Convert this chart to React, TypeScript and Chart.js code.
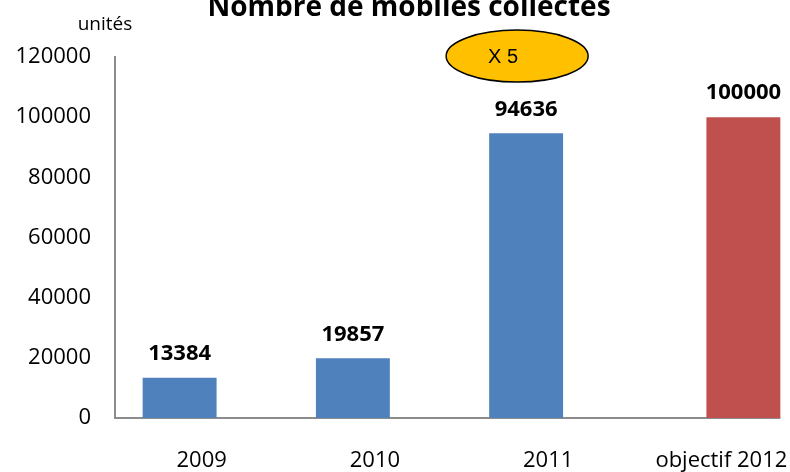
import React, { useEffect, useRef } from "react";
import { Chart, registerables } from "chart.js";

Chart.register(...registerables);

const categories = ["2009", "2010", "2011", "objectif 2012"];
const collectedValues = [13384, 19857, 94636, null];
const targetValues = [null, null, null, 100000];
const yTicks = [0, 20000, 40000, 60000, 80000, 100000, 120000];
const titleText = "Nombre de mobiles collectés";
const unitText = "unités";
const bubbleText = "X 5";

const FONT = "'Open Sans', 'Noto Sans', sans-serif";

const extrasPlugin = {
  id: "extras",
  beforeDatasetsDraw(chart: any) {
    const { ctx, chartArea } = chart;
    const redMeta = chart.getDatasetMeta(1);
    const redBar: any = redMeta.data[3];
    const right = redBar ? redBar.x + redBar.width / 2 : chartArea.right;
    ctx.save();
    ctx.strokeStyle = "#8c8c8c";
    ctx.lineWidth = 2;
    ctx.beginPath();
    ctx.moveTo(chartArea.left - 1, chartArea.bottom);
    ctx.lineTo(right, chartArea.bottom);
    ctx.stroke();
    ctx.restore();
  },
  afterDatasetsDraw(chart: any) {
    const { ctx } = chart;
    ctx.save();
    ctx.fillStyle = "#000";
    ctx.font = `bold 22px ${FONT}`;
    ctx.textAlign = "center";
    ctx.textBaseline = "middle";
    chart.data.datasets.forEach((ds: any, di: number) => {
      const meta = chart.getDatasetMeta(di);
      meta.data.forEach((bar: any, i: number) => {
        const v = ds.data[i];
        if (v === null || v === undefined) return;
        ctx.fillText(String(v), bar.x, bar.y - 24);
      });
    });
    ctx.restore();
  },
  afterDraw(chart: any) {
    const { ctx, chartArea } = chart;
    ctx.save();
    // title (partially cut at top)
    ctx.fillStyle = "#000";
    ctx.font = `bold 28px ${FONT}`;
    ctx.textAlign = "center";
    ctx.textBaseline = "alphabetic";
    ctx.fillText(titleText, chartArea.left + 294, 16);
    // unit label
    ctx.font = `19px ${FONT}`;
    ctx.textBaseline = "middle";
    ctx.fillText(unitText, chartArea.left - 10, chartArea.top - 32);
    // ellipse
    const bar: any = chart.getDatasetMeta(0).data[2];
    const cx = bar.x - 9;
    const cy = chart.scales.y.getPixelForValue(120300);
    ctx.beginPath();
    ctx.ellipse(cx, cy, 71, 26, 0, 0, Math.PI * 2);
    ctx.fillStyle = "#FFC000";
    ctx.fill();
    ctx.strokeStyle = "#000";
    ctx.lineWidth = 1.5;
    ctx.stroke();
    ctx.fillStyle = "#000";
    ctx.font = "20px 'Liberation Sans', Arial, sans-serif";
    ctx.textAlign = "center";
    ctx.fillText(bubbleText, cx - 14, cy + 1);
    ctx.restore();
  },
};

export default function App() {
  const ref = useRef<HTMLCanvasElement | null>(null);
  useEffect(() => {
    if (!ref.current) return;
    Chart.defaults.font.family = FONT;
    const chart = new Chart(ref.current, {
      type: "bar",
      data: {
        labels: categories,
        datasets: [
          {
            data: collectedValues,
            backgroundColor: "#4F81BD",
            categoryPercentage: 0.508,
            barPercentage: 1.68,
          },
          {
            data: targetValues,
            backgroundColor: "#C0504D",
            categoryPercentage: 0.508,
            barPercentage: 1.68,
          },
        ],
      } as any,
      options: {
        responsive: false,
        animation: false,
        devicePixelRatio: 1,
        layout: { padding: { top: 57, right: 22, left: 0, bottom: 0 } },
        plugins: {
          legend: { display: false },
          title: { display: false },
          tooltip: { enabled: false },
        },
        scales: {
          x: {
            type: "category",
            grid: { display: false, drawTicks: false },
            border: { display: false },
            ticks: {
              color: "#000",
              font: { size: 22, family: FONT },
              padding: 30,
              maxRotation: 0,
              autoSkip: false,
            },
            afterFit: (s: any) => {
              s.height = 54;
            },
          },
          y: {
            min: 0,
            max: 120000,
            grid: { display: false, drawTicks: false },
            border: { display: true, color: "#8c8c8c", width: 2 },
            afterBuildTicks: (s: any) => {
              s.ticks = yTicks.map((v) => ({ value: v }));
            },
            ticks: {
              color: "#000",
              font: { size: 22, family: FONT },
              padding: 24,
              callback: (v: any) => String(v),
            },
            afterFit: (s: any) => {
              s.width = 115;
            },
          },
        },
      } as any,
      plugins: [extrasPlugin],
    });
    return () => chart.destroy();
  }, []);
  return (
    <div
      style={{
        position: "fixed",
        left: 0,
        top: 0,
        width: 830,
        height: 472,
        overflow: "hidden",
        background: "#fff",
      }}
    >
      <canvas ref={ref} width={830} height={472} style={{ display: "block" }} />
    </div>
  );
}
